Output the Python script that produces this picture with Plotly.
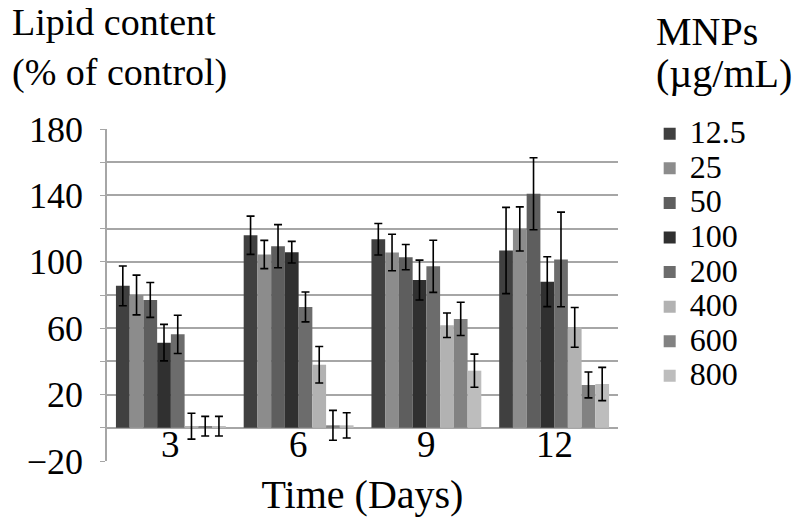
import plotly.graph_objects as go

days = ["3", "6", "9", "12"]
concs = ["12.5", "25", "50", "100", "200", "400", "600", "800"]

# lipid content (% of control) per concentration, for days 3, 6, 9, 12
lipid = {
    "12.5": [85.5, 116, 113.6, 106.8],
    "25": [80, 104.4, 105.6, 119.8],
    "50": [77, 109.4, 102.8, 141],
    "100": [51.3, 105.8, 89, 88],
    "200": [56.3, 72.8, 97.3, 101.4],
    "400": [1, 38, 61.8, 60.5],
    "600": [1, 1.5, 65.6, 25.8],
    "800": [1, 1.5, 34.4, 26.4],
}
err = {
    "12.5": [12, 11.5, 9.5, 26],
    "25": [12, 8.5, 11, 13.3],
    "50": [10.5, 13, 7.6, 21.7],
    "100": [11, 6.5, 12, 15],
    "200": [11.5, 9, 15.7, 28.5],
    "400": [7.8, 11, 7.4, 12],
    "600": [5.9, 9, 10, 7.8],
    "800": [5.9, 7.6, 10, 10],
}
colors = ["#404040", "#8c8c8c", "#5e5e5e", "#303030",
          "#6c6c6c", "#b2b2b2", "#828282", "#bdbdbd"]

serif = "Liberation Serif"
grid = "#a6a6a6"

fig = go.Figure()
for c, col in zip(concs, colors):
    fig.add_trace(go.Bar(
        x=days, y=lipid[c], name="<span style='font-size:32px'>" + c + "</span>",
        marker=dict(color=col, line=dict(width=0)),
        error_y=dict(type="data", array=err[c], color="black",
                     thickness=1.6, width=4),
    ))

# day labels sit between the zero line and -20, as in the original
ann = [dict(x=i, y=-10, xref="x", yref="y", text=d, showarrow=False,
            font=dict(family=serif, size=37, color="black"))
       for i, d in enumerate(days)]

# titles: one annotation per line to get the tight line spacing of the original
def title_line(txt, x, y, size=40):
    return dict(text=txt, xref="paper", yref="paper", x=x, y=y,
                xanchor="left", yanchor="middle", showarrow=False,
                font=dict(family=serif, size=size, color="black"))

ann += [
    title_line("Lipid content", -0.19, 1.322, 38),
    title_line("(% of control)", -0.19, 1.169, 38),
    title_line("MNPs", 1.07, 1.295),
    title_line("(\u00b5g/mL)", 1.07, 1.166),
]

# page body has an 8px margin, so the figure is 8px smaller on each axis
fig.update_layout(
    width=792, height=511,
    margin=dict(l=99, r=182, t=121, b=58),
    paper_bgcolor="white", plot_bgcolor="white",
    barmode="group", bargap=0.14, bargroupgap=0,
    font=dict(family=serif, color="black", size=36),
    legend=dict(
        x=1.062, xanchor="left", xref="paper",
        y=1.053, yanchor="top",
        font=dict(family=serif, size=24.3, color="black"),
        itemwidth=30, bgcolor="rgba(0,0,0,0)", maxheight=500,
    ),
    xaxis=dict(
        type="category", categoryorder="array", categoryarray=days,
        showticklabels=False,
        showline=False, showgrid=False, ticks="",
        title=dict(text="Time (Days)", font=dict(family=serif, size=40), standoff=18),
    ),
    yaxis=dict(
        range=[-20, 180], tick0=-20, dtick=40,
        tickfont=dict(family=serif, size=36, color="black"),
        ticklabelstandoff=10,
        showgrid=True, gridcolor=grid, gridwidth=1.5,
        zeroline=True, zerolinecolor=grid, zerolinewidth=1.5,
        showline=True, linecolor=grid, linewidth=1.5,
        ticks="outside", ticklen=5, tickcolor=grid,
        minor=dict(dtick=20, tick0=-20, showgrid=True, gridcolor=grid, gridwidth=1.5,
                   ticks="outside", ticklen=5, tickcolor=grid),
    ),
    annotations=ann,
)

fig.write_html("out.html")
